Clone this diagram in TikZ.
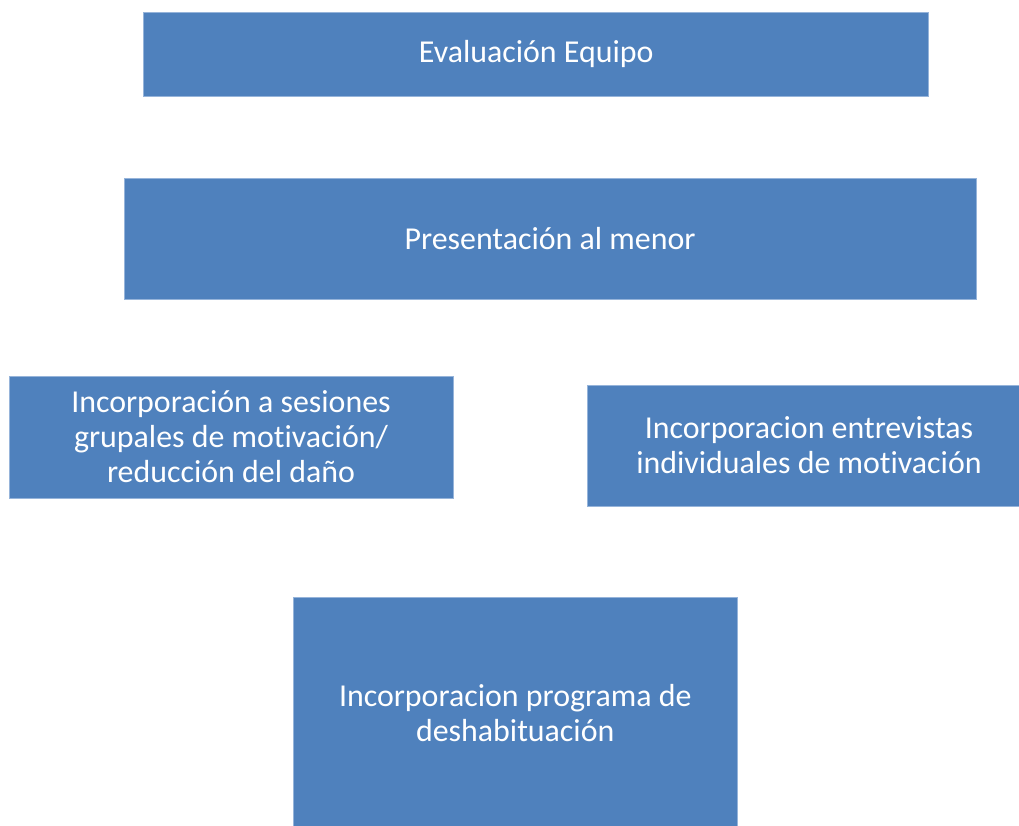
\documentclass[tikz,border=0pt]{standalone}
\usepackage{fontspec}
\setmainfont[Ligatures={NoCommon}]{Carlito}
\definecolor{boxblue}{RGB}{79,129,189}
\definecolor{boxedge}{RGB}{150,180,218}
\begin{document}
\begin{tikzpicture}[x=1pt,y=-1pt,
  bluebox/.style={rectangle, fill=boxblue, draw=boxedge, line width=0.8pt, text=white,
    inner sep=0pt, align=center, font=\fontsize{31.9}{35}\selectfont}]
\useasboundingbox (0,0) rectangle (1019,825);
\clip (0,0) rectangle (1019,825);
\node[bluebox, minimum width=785pt, minimum height=84pt] (eval) at (536.25,54) {Evaluación Equipo};
\node[bluebox, minimum width=852pt, minimum height=121pt] (pres) at (550,238.5) {Presentación al menor};
\node[bluebox, minimum width=444pt, minimum height=122pt] (grup) at (231,437) {Incorporación a sesiones\\grupales de motivación/\\reducción del daño};
\node[bluebox, minimum width=444pt, minimum height=121pt] (indiv) at (809,445.5) {Incorporacion entrevistas\\individuales de motivación};
\node[bluebox, minimum width=443.5pt, minimum height=232pt] (desh) at (515.25,713) {Incorporacion programa de\\deshabituación};
\end{tikzpicture}
\end{document}
